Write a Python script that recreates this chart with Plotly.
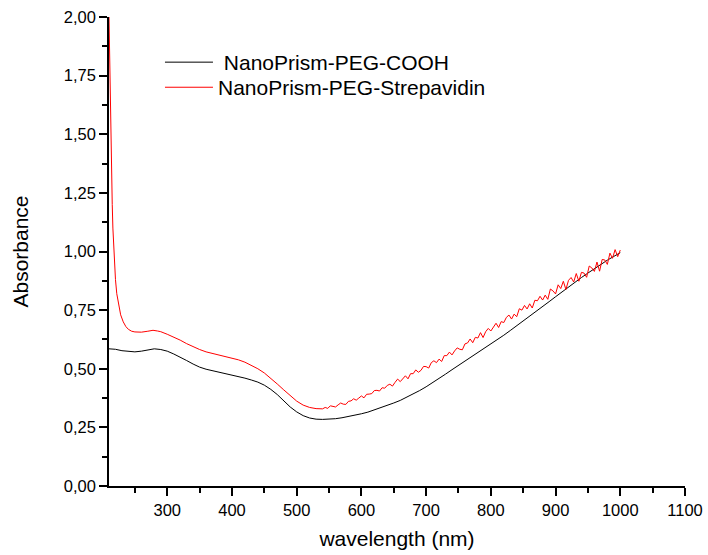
import plotly.graph_objects as go

# ---- data ----
cooh_wl = [210, 220, 230, 240, 250, 260, 270, 280, 290, 300, 310, 320, 330, 340, 350,
           360, 370, 380, 390, 400, 410, 420, 430, 440, 450, 460, 470, 480, 490, 500,
           510, 520, 530, 540, 550, 560, 570, 580, 590, 600, 610, 620, 630, 640, 650,
           660, 670, 680, 690, 700, 710, 720, 730, 740, 750, 760, 770, 780, 790, 800,
           810, 820, 830, 840, 850, 860, 870, 880, 890, 900, 910, 920, 930, 940, 950,
           960, 970, 980, 990, 1000]
cooh_abs = [0.585, 0.583, 0.577, 0.573, 0.572, 0.575, 0.581, 0.585, 0.582, 0.575, 0.563,
            0.550, 0.535, 0.520, 0.507, 0.498, 0.492, 0.487, 0.480, 0.474, 0.467, 0.460,
            0.452, 0.443, 0.430, 0.412, 0.390, 0.362, 0.337, 0.316, 0.300, 0.290, 0.285,
            0.284, 0.285, 0.287, 0.291, 0.296, 0.302, 0.308, 0.315, 0.324, 0.333, 0.343,
            0.354, 0.365, 0.378, 0.392, 0.407, 0.423, 0.440, 0.458, 0.477, 0.496, 0.514,
            0.532, 0.550, 0.568, 0.586, 0.605, 0.624, 0.643, 0.663, 0.683, 0.703, 0.723,
            0.744, 0.765, 0.786, 0.807, 0.828, 0.849, 0.869, 0.889, 0.908, 0.927, 0.946,
            0.963, 0.979, 0.995]

# smooth part of the Strepavidin spectrum (210-536 nm)
strep_wl_a = [210, 211, 212, 213, 214, 215, 216, 218, 220, 222, 225, 228, 232, 236, 240,
              245, 250, 260, 270, 278, 285, 290, 300, 310, 320, 330, 340, 350, 360, 370,
              380, 390, 400, 410, 420, 430, 440, 450, 460, 470, 480, 490, 500, 510, 520,
              530, 536]
strep_abs_a = [2.00, 1.80, 1.60, 1.45, 1.32, 1.20, 1.10, 0.97, 0.88, 0.82, 0.77, 0.73, 0.70,
               0.68, 0.668, 0.660, 0.657, 0.656, 0.660, 0.664, 0.661, 0.658, 0.647, 0.635,
               0.622, 0.607, 0.594, 0.582, 0.572, 0.565, 0.559, 0.553, 0.546, 0.538, 0.528,
               0.515, 0.500, 0.482, 0.460, 0.435, 0.410, 0.385, 0.362, 0.345, 0.335, 0.330,
               0.331]
# noisy part (540-1000 nm, every 4 nm)
strep_wl_b = [540, 544, 548, 552, 556, 560, 564, 568, 572, 576, 580, 584, 588, 592, 596,
              600, 604, 608, 612, 616, 620, 624, 628, 632, 636, 640, 644, 648, 652, 656,
              660, 664, 668, 672, 676, 680, 684, 688, 692, 696, 700, 704, 708, 712, 716,
              720, 724, 728, 732, 736, 740, 744, 748, 752, 756, 760, 764, 768, 772, 776,
              780, 784, 788, 792, 796, 800, 804, 808, 812, 816, 820, 824, 828, 832, 836,
              840, 844, 848, 852, 856, 860, 864, 868, 872, 876, 880, 884, 888, 892, 896,
              900, 904, 908, 912, 916, 920, 924, 928, 932, 936, 940, 944, 948, 952, 956,
              960, 964, 968, 972, 976, 980, 984, 988, 992, 996, 1000]
strep_abs_b = [0.329, 0.335, 0.331, 0.342, 0.339, 0.337, 0.346, 0.354, 0.349, 0.348,
               0.361, 0.363, 0.372, 0.366, 0.375, 0.384, 0.376, 0.391, 0.392, 0.394,
               0.407, 0.408, 0.405, 0.419, 0.417, 0.429, 0.434, 0.426, 0.442, 0.456,
               0.445, 0.458, 0.470, 0.457, 0.479, 0.479, 0.495, 0.485, 0.493, 0.510,
               0.509, 0.503, 0.526, 0.534, 0.526, 0.541, 0.531, 0.556, 0.556, 0.571,
               0.559, 0.576, 0.589, 0.583, 0.581, 0.606, 0.610, 0.627, 0.611, 0.634,
               0.631, 0.654, 0.633, 0.658, 0.672, 0.661, 0.675, 0.694, 0.676, 0.701,
               0.697, 0.719, 0.729, 0.712, 0.733, 0.722, 0.756, 0.750, 0.770, 0.755,
               0.777, 0.759, 0.792, 0.790, 0.809, 0.793, 0.814, 0.796, 0.840, 0.832,
               0.819, 0.858, 0.842, 0.873, 0.838, 0.877, 0.889, 0.870, 0.906, 0.873,
               0.911, 0.908, 0.890, 0.938, 0.930, 0.915, 0.955, 0.916, 0.966, 0.964,
               0.945, 0.993, 0.971, 1.008, 0.978, 1.006]
strep_wl = strep_wl_a + strep_wl_b
strep_abs = strep_abs_a + strep_abs_b

series_names = [" NanoPrism-PEG-COOH", "NanoPrism-PEG-Strepavidin"]
x_ticks = [300, 400, 500, 600, 700, 800, 900, 1000, 1100]
y_ticks = [0.0, 0.25, 0.5, 0.75, 1.0, 1.25, 1.5, 1.75, 2.0]

FONT = "Liberation Sans, Arial, sans-serif"

fig = go.Figure()
fig.add_trace(go.Scatter(x=cooh_wl, y=cooh_abs, mode="lines", name=series_names[0],
                         line=dict(color="#000000", width=1), legend="legend"))
fig.add_trace(go.Scatter(x=strep_wl, y=strep_abs, mode="lines", name=series_names[1],
                         line=dict(color="#FF0000", width=1), legend="legend2"))

axis_common = dict(showline=True, linecolor="black", linewidth=1.6, mirror=False,
                   showgrid=False, zeroline=False, ticks="outside", ticklen=8,
                   tickwidth=1.6, tickcolor="black", automargin=False,
                   tickfont=dict(family=FONT, size=16.5, color="black"),
                   title_font=dict(family=FONT, size=21, color="black"))

legend_common = dict(x=0.0885, xanchor="left", yanchor="top",
                     bgcolor="rgba(0,0,0,0)", borderwidth=0,
                     font=dict(family=FONT, size=21, color="black"),
                     itemwidth=48)

fig.update_layout(
    width=708, height=555,
    margin=dict(l=109, r=23, t=17, b=69),
    paper_bgcolor="white", plot_bgcolor="white",
    separators=",.",
    font=dict(family=FONT, color="black"),
    showlegend=True,
    legend=dict(legend_common, y=0.9467),
    legend2=dict(legend_common, y=0.8932),
    xaxis=dict(axis_common, range=[210, 1100], tickvals=x_ticks,
               ticktext=[str(v) for v in x_ticks],
               minor=dict(dtick=50, tick0=0, ticklen=5, tickwidth=1.6,
                          tickcolor="black", ticks="outside"),
               title=dict(text="wavelength (nm)", standoff=14)),
    yaxis=dict(axis_common, range=[0, 2.0], tickvals=y_ticks, tickformat=".2f",
               minor=dict(dtick=0.125, tick0=0, ticklen=5, tickwidth=1.6,
                          tickcolor="black", ticks="outside"),
               title=dict(text="Absorbance", standoff=29)),
)

fig.write_html("out.html")
